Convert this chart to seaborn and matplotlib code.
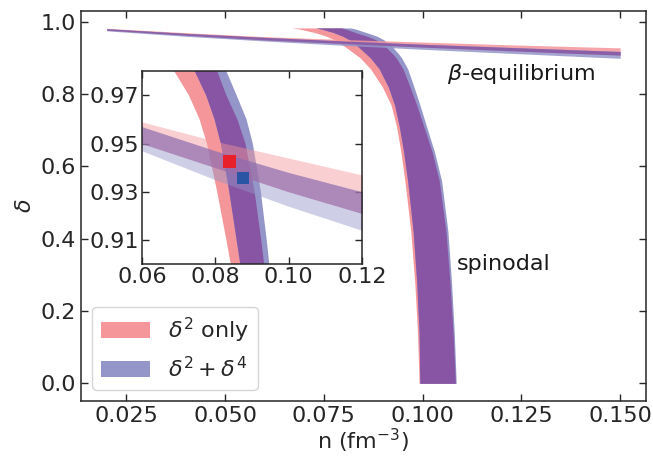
import numpy as np
import matplotlib
matplotlib.use("Agg")
import matplotlib.pyplot as plt
from matplotlib.patches import Patch
import seaborn as sns

# ---------------- data ----------------
# spinodal bands: delta grid and left/right density edges
spin_delta = [0.0, 0.14, 0.28, 0.42, 0.56, 0.64, 0.71, 0.77, 0.82, 0.87, 0.90,
              0.91, 0.93, 0.95, 0.96, 0.97, 0.98, 0.983]
spin_d2_left = [0.0991, 0.0987, 0.0980, 0.0970, 0.0955, 0.0945, 0.0934, 0.0920, 0.0898,
                0.0868, 0.0842, 0.0830, 0.0805, 0.0777, 0.0757, 0.0728, 0.0688, 0.0668]
spin_d2_right = [0.1083, 0.1077, 0.1069, 0.1059, 0.1042, 0.1024, 0.1003, 0.0985, 0.0968,
                 0.0950, 0.0933, 0.0925, 0.0907, 0.0882, 0.0860, 0.0830, 0.0805, 0.0795]
spin_d4_left = [0.0993, 0.0991, 0.0985, 0.0976, 0.0962, 0.0952, 0.0941, 0.0929, 0.0913,
                0.0890, 0.0868, 0.0858, 0.0838, 0.0815, 0.0798, 0.0775, 0.0744, 0.0730]
spin_d4_right = [0.1085, 0.1080, 0.1073, 0.1064, 0.1048, 0.1030, 0.1010, 0.0993, 0.0978,
                 0.0962, 0.0947, 0.0940, 0.0924, 0.0902, 0.0885, 0.0858, 0.0830, 0.0818]

# beta-equilibrium bands: density grid and lower/upper delta
beta_n = [0.02, 0.04, 0.06, 0.08, 0.10, 0.12, 0.14, 0.15]
beta_d2_low = [0.977, 0.963, 0.950, 0.940, 0.930, 0.921, 0.912, 0.908]
beta_d2_high = [0.982, 0.970, 0.959, 0.951, 0.944, 0.937, 0.931, 0.928]
beta_d4_low = [0.975, 0.960, 0.947, 0.935, 0.924, 0.914, 0.904, 0.899]
beta_d4_high = [0.981, 0.968, 0.957, 0.947, 0.938, 0.930, 0.922, 0.918]

# crossing points (inset markers)
cross_n = [0.0838, 0.0876]
cross_delta = [0.9425, 0.9357]
cross_model = ["d2", "d2+d4"]

labels = [r"$\delta^2$ only", r"$\delta^2+\delta^4$"]

# ---------------- style ----------------
sns.set_style("ticks")
plt.rcParams["font.family"] = ["DejaVu Sans"]
plt.rcParams["mathtext.fontset"] = "dejavusans"
FS = 16

RED = "#F4969A"
BLUE = "#9495C8"
PURPLE = "#8755A3"


def draw_spinodal(ax, alpha):
    d = np.array(spin_delta)
    rl, rr = np.array(spin_d2_left), np.array(spin_d2_right)
    bl, br = np.array(spin_d4_left), np.array(spin_d4_right)
    ax.fill_betweenx(d, rl, rr, color=RED, alpha=alpha, lw=0)
    ax.fill_betweenx(d, bl, br, color=BLUE, alpha=alpha, lw=0)
    ol, orr = np.maximum(rl, bl), np.minimum(rr, br)
    ax.fill_betweenx(d, ol, orr, where=orr > ol, color=PURPLE, alpha=alpha, lw=0,
                     interpolate=True)


def draw_beta(ax, alpha):
    n = np.array(beta_n)
    rl, rh = np.array(beta_d2_low), np.array(beta_d2_high)
    bl, bh = np.array(beta_d4_low), np.array(beta_d4_high)
    ax.fill_between(n, rl, rh, color=RED, alpha=alpha, lw=0)
    ax.fill_between(n, bl, bh, color=BLUE, alpha=alpha, lw=0)
    ol, oh = np.maximum(rl, bl), np.minimum(rh, bh)
    ax.fill_between(n, ol, oh, where=oh > ol, color=PURPLE, alpha=alpha, lw=0,
                    interpolate=True)


def style_axes(ax):
    ax.tick_params(direction="in", top=True, right=True, length=5, width=1,
                   labelsize=FS, colors=".15")
    for s in ax.spines.values():
        s.set_visible(True)
        s.set_color(".15")
        s.set_linewidth(1.1)


fig = plt.figure(figsize=(6.53, 4.57), dpi=100)
ax = fig.add_axes([0.124, 0.1225, 0.865, 0.8535])

draw_spinodal(ax, 1.0)
draw_beta(ax, 0.85)
ax.set_xlim(0.0135, 0.1565)
ax.set_ylim(-0.049, 1.03)
ax.set_xticks([0.025, 0.050, 0.075, 0.100, 0.125, 0.150])
ax.set_xticklabels(["0.025", "0.050", "0.075", "0.100", "0.125", "0.150"])
ax.set_yticks([0.0, 0.2, 0.4, 0.6, 0.8, 1.0])
ax.set_yticklabels(["0.0", "0.2", "0.4", "0.6", "0.8", "1.0"])
style_axes(ax)
ax.set_xlabel(r"n (fm$^{-3}$)", fontsize=FS, color=".15", labelpad=1)
ax.set_ylabel(r"$\delta$", fontsize=FS, color=".15")

ax.text(0.1061, 0.855, r"$\beta$-equilibrium", fontsize=FS, va="center", ha="left", color=".1")
ax.text(0.1087, 0.331, "spinodal", fontsize=FS, va="center", ha="left", color=".1")

handles = [Patch(facecolor=RED, edgecolor="none"), Patch(facecolor=BLUE, edgecolor="none")]
leg = ax.legend(handles, labels, loc="lower left", fontsize=FS, handlelength=2.2,
                handleheight=0.7, borderaxespad=0.5, framealpha=0.8)

# ---------------- inset ----------------
ins = fig.add_axes([0.2175, 0.422, 0.337, 0.422])
draw_spinodal(ins, 1.0)
draw_beta(ins, 0.45)
pal = {"d2": "#E8202A", "d2+d4": "#2A55A5"}
sns.scatterplot(x=cross_n, y=cross_delta, hue=cross_model, palette=pal, marker="s",
                s=80, edgecolor="none", legend=False, ax=ins, zorder=5)
ins.set_xlim(0.06, 0.12)
ins.set_ylim(0.90, 0.98)
ins.set_xticks([0.06, 0.08, 0.10, 0.12])
ins.set_xticklabels(["0.06", "0.08", "0.10", "0.12"])
ins.set_yticks([0.91, 0.93, 0.95, 0.97])
ins.set_yticklabels(["0.91", "0.93", "0.95", "0.97"])
style_axes(ins)
ins.tick_params(labelsize=FS, pad=2)

fig.savefig("out.png", dpi=100)
